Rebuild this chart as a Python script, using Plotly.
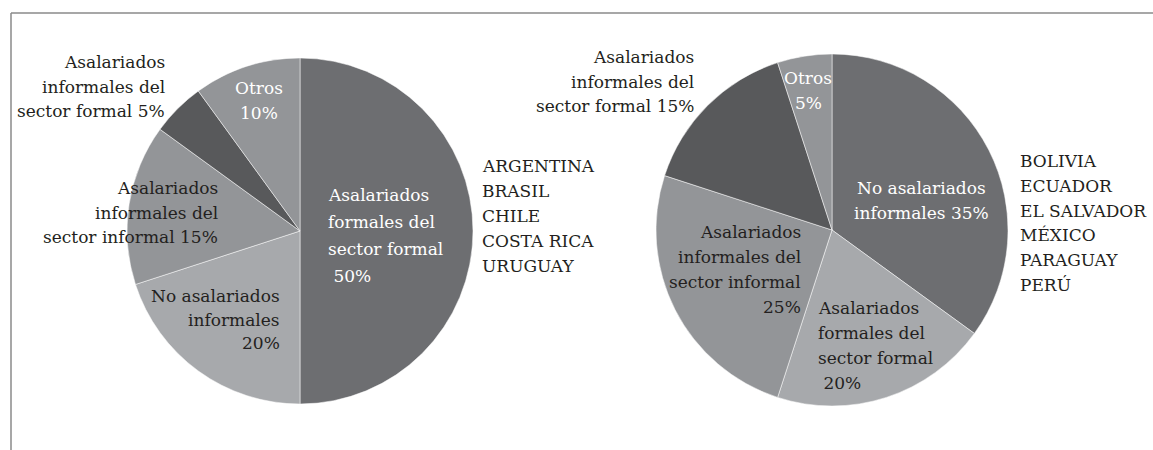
import plotly.graph_objects as go

W, H = 1153, 450

# ---- data ----
left_labels = ["Asalariados formales del sector formal", "No asalariados informales",
               "Asalariados informales del sector informal", "Asalariados informales del sector formal", "Otros"]
left_values = [50, 20, 15, 5, 10]
left_colors = ["#6d6e71", "#a7a9ac", "#939598", "#58595b", "#939598"]
left_countries = ["ARGENTINA", "BRASIL", "CHILE", "COSTA RICA", "URUGUAY"]

right_labels = ["No asalariados informales", "Asalariados formales del sector formal",
                "Asalariados informales del sector informal", "Asalariados informales del sector formal", "Otros"]
right_values = [35, 20, 25, 15, 5]
right_colors = ["#6d6e71", "#a7a9ac", "#939598", "#58595b", "#939598"]
right_countries = ["BOLIVIA", "ECUADOR", "EL SALVADOR", "MÉXICO", "PARAGUAY", "PERÚ"]

FONT = "DejaVu Serif"
DARK = "#231f20"
WHITE = "#ffffff"


def px_domain(cx, cy, r):
    return dict(x=[(cx - r) / W, (cx + r) / W], y=[(H - cy - r) / H, (H - cy + r) / H])


fig = go.Figure()
fig.add_trace(go.Pie(labels=left_labels, values=left_values, sort=False, direction="clockwise",
                     rotation=0, textinfo="none", hoverinfo="label+percent",
                     marker=dict(colors=left_colors, line=dict(color="#ffffff", width=0.5)),
                     domain=px_domain(300, 231, 173), showlegend=False))
fig.add_trace(go.Pie(labels=right_labels, values=right_values, sort=False, direction="clockwise",
                     rotation=0, textinfo="none", hoverinfo="label+percent",
                     marker=dict(colors=right_colors, line=dict(color="#ffffff", width=0.5)),
                     domain=px_domain(832, 230, 176), showlegend=False))

annotations = []


def block(lines, x, y0, align, color=DARK, spacing=24.6, size=17):
    for i, ln in enumerate(lines):
        y = y0 + i * spacing
        annotations.append(dict(text=ln, x=x / W, y=1 - y / H, xref="paper", yref="paper",
                                xanchor=align, yanchor="middle", showarrow=False,
                                font=dict(family=FONT, size=size, color=color)))


# left pie labels
block(["Asalariados", "informales del", "sector formal 5%"], 167, 62, "right")
block(["Otros", "10%"], 259, 88, "center", color=WHITE)
block(["Asalariados", "informales del", "sector informal 15%"], 220, 188, "right")
block(["No asalariados", "informales", "20%"], 282, 296, "right", spacing=23.5)
block(["Asalariados", "formales del", "sector formal", " 50%"], 326, 195, "left", color=WHITE, spacing=27)
block(left_countries, 480, 166, "left", spacing=25)

# right pie labels
block(["Asalariados", "informales del", "sector formal 15%"], 696, 57, "right")
block(["Otros", "5%"], 808, 78, "center", color=WHITE)
block(["No asalariados", "informales 35%"], 921, 188, "center", color=WHITE, spacing=25)
block(["Asalariados", "informales del", "sector informal", "25%"], 803, 232, "right", spacing=25)
block(["Asalariados", "formales del", "sector formal", " 20%"], 816, 308, "left", spacing=25)
block(right_countries, 1018, 161, "left", spacing=24.8)

shapes = [
    dict(type="line", xref="paper", yref="paper", x0=11 / W, x1=1.0, y0=1 - 13 / H, y1=1 - 13 / H,
         line=dict(color="#8a8a8a", width=1.5)),
    dict(type="line", xref="paper", yref="paper", x0=11 / W, x1=11 / W, y0=1 - 13 / H, y1=0,
         line=dict(color="#8a8a8a", width=1.5)),
]

fig.update_layout(width=W, height=H, margin=dict(l=0, r=0, t=0, b=0),
                  paper_bgcolor="#ffffff", plot_bgcolor="#ffffff",
                  annotations=annotations, shapes=shapes,
                  font=dict(family=FONT, size=17, color=DARK))

fig.write_html("out.html", config={"displayModeBar": False},
               post_script="document.body.style.margin='0';document.body.style.padding='0';")
